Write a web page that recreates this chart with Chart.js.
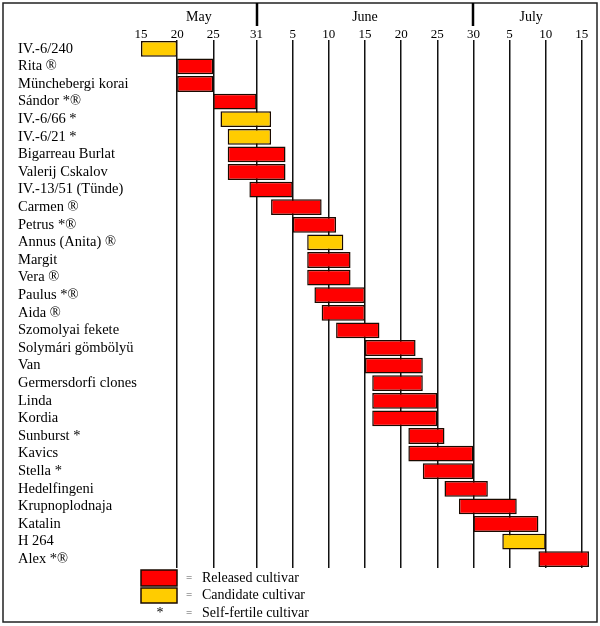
<!DOCTYPE html>
<html>
<head>
<meta charset="utf-8">
<script src="https://cdn.jsdelivr.net/npm/chart.js@4"></script>
<style>
  html, body { margin: 0; padding: 0; background: #fff; }
  canvas { display: block; }
</style>
</head>
<body>
<canvas id="c" width="600" height="626"></canvas>
<script>
// Days counted from 1 May (1 May = 1, 31 May = 31, 1 June = 32, 1 July = 62)
const cultivars = ["IV.-6/240","Rita ®","Münchebergi korai","Sándor *®","IV.-6/66 *","IV.-6/21 *","Bigarreau Burlat","Valerij Cskalov","IV.-13/51 (Tünde)","Carmen ®","Petrus *®","Annus (Anita) ®","Margit","Vera ®","Paulus *®","Aida ®","Szomolyai fekete","Solymári gömbölyü","Van","Germersdorfi clones","Linda","Kordia","Sunburst *","Kavics","Stella *","Hedelfingeni","Krupnoplodnaja","Katalin","H 264","Alex *®"];
const startDay = [15,20,20,25,26,27,27,27,30,33,36,38,38,38,39,40,42,46,46,47,47,47,52,52,54,57,59,61,65,70];
const endDay   = [20,25,25,31,33,33,35,35,36,40,42,43,44,44,46,46,48,53,54,54,56,56,57,61,61,63,67,70,71,77];
const status   = ["C","R","R","R","C","C","R","R","R","R","R","C","R","R","R","R","R","R","R","R","R","R","R","R","R","R","R","R","C","R"];
const tickDays   = [15,20,25,31,36,41,46,51,56,61,66,71,76];
const tickLabels = ["15","20","25","31","5","10","15","20","25","30","5","10","15"];
const months      = ["May","June","July"];
const monthBounds = [15,31,61,77];
const legendLabels = ["Released cultivar","Candidate cultivar","Self-fertile cultivar"];

const RED = "#FF0000", YELLOW = "#FFCC00", EDGE = "#1a0a00";
const SERIF = "'Liberation Serif', 'Times New Roman', serif";

const decor = {
  id: "decor",
  afterDraw(chart) {
    const ctx = chart.ctx, x = chart.scales.x;
    ctx.save();
    // frame
    ctx.strokeStyle = "#222"; ctx.lineWidth = 1.5;
    ctx.strokeRect(3, 3, 594, 619);
    // month separators
    ctx.lineWidth = 2.5; ctx.strokeStyle = "#000";
    for (let i = 1; i < monthBounds.length - 1; i++) {
      const px = Math.round(x.getPixelForValue(monthBounds[i]));
      ctx.beginPath(); ctx.moveTo(px, 3); ctx.lineTo(px, 26); ctx.stroke();
    }
    // month names
    ctx.fillStyle = "#000"; ctx.font = "14px " + SERIF;
    ctx.textAlign = "center"; ctx.textBaseline = "middle";
    months.forEach((m, i) => {
      const c = x.getPixelForValue((monthBounds[i] + monthBounds[i + 1]) / 2);
      ctx.fillText(m, c, 17);
    });
    // legend
    ctx.lineWidth = 1.5; ctx.strokeStyle = EDGE;
    ctx.fillStyle = RED; ctx.fillRect(141, 570, 36, 16); ctx.strokeRect(141, 570, 36, 16);
    ctx.fillStyle = YELLOW; ctx.fillRect(141, 588, 36, 15); ctx.strokeRect(141, 588, 36, 15);
    ctx.fillStyle = "#000"; ctx.font = "14px " + SERIF;
    ctx.textAlign = "center";
    ctx.fillText("*", 160, 613);
    ctx.fillStyle = "#555"; ctx.font = "11px " + SERIF;
    [578, 595, 613].forEach(y => ctx.fillText("=", 189, y));
    ctx.fillStyle = "#000"; ctx.font = "14px " + SERIF;
    ctx.textAlign = "left";
    legendLabels.forEach((t, i) => ctx.fillText(t, 202, [578, 595, 613][i]));
    ctx.restore();
  }
};

new Chart(document.getElementById("c"), {
  type: "bar",
  data: {
    labels: cultivars,
    datasets: [{
      data: cultivars.map((c, i) => [startDay[i], endDay[i]]),
      backgroundColor: status.map(s => s === "C" ? YELLOW : RED),
      borderColor: EDGE,
      borderWidth: 1.5,
      borderSkipped: false,
      barPercentage: 0.9,
      categoryPercentage: 1
    }]
  },
  options: {
    indexAxis: "y",
    responsive: false,
    animation: false,
    devicePixelRatio: 1,
    layout: { padding: { left: 18, right: 11, top: 0, bottom: 58 } },
    plugins: { legend: { display: false }, tooltip: { enabled: false } },
    scales: {
      x: {
        position: "top",
        min: 15, max: 77,
        afterBuildTicks: s => { s.ticks = tickDays.map(v => ({ value: v })); },
        afterFit: s => { s.height = 40; },
        border: { display: false },
        grid: {
          drawTicks: false,
          color: ctx => (ctx.tick && ctx.tick.value === 15) ? "rgba(0,0,0,0)" : "#111",
          lineWidth: 1.5
        },
        ticks: {
          autoSkip: false, maxRotation: 0, padding: -2,
          color: "#000",
          font: { family: SERIF, size: 13 },
          callback: (v, i) => tickLabels[i]
        }
      },
      y: {
        afterFit: s => { s.width = 123; },
        border: { display: false },
        grid: { display: false, drawTicks: false },
        ticks: {
          autoSkip: false, crossAlign: "far", padding: 0,
          color: "#000",
          font: { family: SERIF, size: 14.5 }
        }
      }
    }
  },
  plugins: [decor]
});
</script>
</body>
</html>
